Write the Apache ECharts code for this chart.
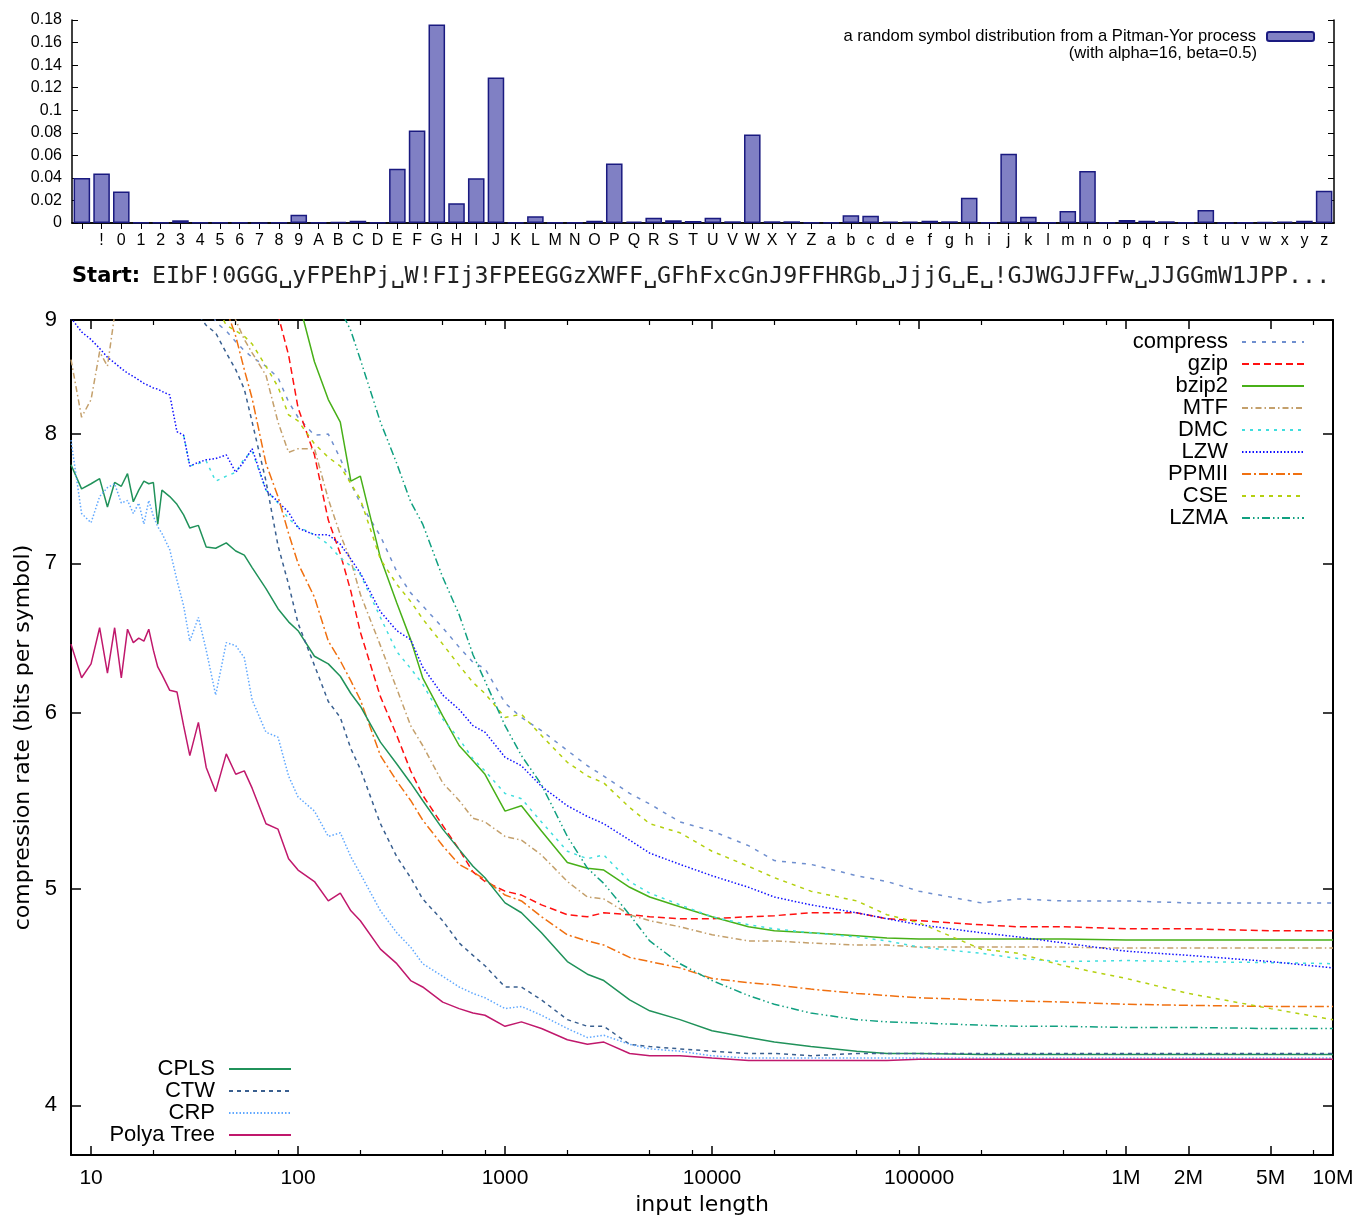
<!DOCTYPE html>
<html><head><meta charset="utf-8">
<script src="https://cdn.jsdelivr.net/npm/echarts@6/dist/echarts.min.js"></script>
<style>html,body{margin:0;padding:0;background:#fff}#c{width:1356px;height:1218px}</style>
</head><body><div id="c"></div>
<script>
// ---------- top chart: symbol distribution ----------
const symbols = [' ','!','0','1','2','3','4','5','6','7','8','9',
  'A','B','C','D','E','F','G','H','I','J','K','L','M','N','O','P','Q','R','S','T','U','V','W','X','Y','Z',
  'a','b','c','d','e','f','g','h','i','j','k','l','m','n','o','p','q','r','s','t','u','v','w','x','y','z'];
const symbolProb = [0.040,0.044,0.028,0.0005,0.0003,0.0024,0.0003,0.0003,0.0003,0.0002,0.0003,0.0074,
  0.0005,0.001,0.002,0.0005,0.048,0.082,0.176,0.0175,0.0396,0.129,0.0005,0.006,0.0005,0.0005,0.002,0.0527,0.0012,0.0047,0.0024,0.0018,0.0047,0.0015,0.0784,0.0015,0.0015,0.0005,
  0.0006,0.0068,0.0065,0.0012,0.0012,0.002,0.0015,0.0225,0.0003,0.0615,0.0056,0.0006,0.0107,0.046,0.0003,0.0027,0.002,0.0015,0.0003,0.0115,0.0002,0.0003,0.0009,0.0012,0.002,0.0287];
const barLegend = 'a random symbol distribution from a Pitman-Yor process';
const barLegend2 = '(with alpha=16, beta=0.5)';
const startLabel = 'Start:';
const startText = 'EIbF!0GGG\u2423yFPEhPj\u2423W!FIj3FPEEGGzXWFF\u2423GFhFxcGnJ9FFHRGb\u2423JjjG\u2423E\u2423!GJWGJJFFw\u2423JJGGmW1JPP...';

// ---------- main chart: compression rates ----------
const N = null;
const xs = [8,9,10,11,12,13,14,15,16,17, 18,19,20,21,22,24,26,28,30,33, 36,40,45,50,55,60,70,80,90,100,
  120,140,160,180,200,250,300,350,400,500, 600,700,800,1000,1200,1500,2000,2500,3000,4000,
  5000,7000,10000,15000,20000,30000,50000,70000,100000,200000, 300000,500000,1000000,2000000,5000000,10000000];
const xMajorTicks = [10,100,1000,10000,100000,1000000,2000000,5000000,10000000];
const xMinorTicks = [20,50,80,200,500,800,2000,5000,8000,20000,50000,80000,200000,500000,800000,8000000];
const yTicks = [4,5,6,7,8,9];

const compress = [N,N,N,N,N,N,N,N,N,N, N,N,N,N,N,N,N,N,N,N,
  9.3,8.98,8.90,8.80,8.72,8.66,8.58,8.48,8.27,8.14, 7.99,8.00,7.80,7.60,7.45,7.20,6.94,6.79,6.70,6.55,
  6.42,6.32,6.28,6.06,5.97,5.89,5.77,5.68,5.62,5.52, 5.46,5.36,5.31,5.23,5.15,5.13,5.07,5.04,4.99,4.93, 4.95,4.94,4.94,4.93,4.93,4.93];
const gzip = [N,N,N,N,N,N,N,N,N,N, N,N,N,N,N,N,N,N,N,N,
  N,N,N,N,N,N,9.8,9.05,8.68,8.22, 7.83,7.32,7.07,6.80,6.52,6.10,5.86,5.65,5.51,5.34,
  5.21,5.09,5.04,4.99,4.97,4.92,4.87,4.86,4.88,4.87, 4.86,4.85,4.85,4.86,4.865,4.88,4.88,4.85,4.84,4.82, 4.81,4.81,4.80,4.80,4.79,4.79];
const bzip2 = [N,N,N,N,N,N,N,N,N,N, N,N,N,N,N,N,N,N,N,N,
  N,N,N,N,N,N,N,N,9.8,9.2, 8.62,8.29,8.10,7.62,7.66,7.04,6.72,6.47,6.22,5.98,
  5.80,5.71,5.63,5.42,5.45,5.31,5.14,5.11,5.10,5.01, 4.96,4.91,4.86,4.81,4.79,4.78,4.765,4.755,4.75,4.75, 4.75,4.75,4.745,4.745,4.745,4.745];
const mtf = [8.64,8.14,8.29,8.71,8.58,9.05,9.6,N,N,N, N,N,N,N,N,N,N,N,N,N,
  N,N,9.3,9.0,8.82,8.70,8.50,8.10,7.85,7.88, 7.88,7.48,7.21,7.02,6.78,6.43,6.15,5.92,5.80,5.58,
  5.48,5.38,5.36,5.28,5.26,5.18,5.04,4.96,4.95,4.87, 4.84,4.81,4.77,4.74,4.74,4.73,4.72,4.72,4.71,4.71, 4.71,4.71,4.705,4.705,4.705,4.705];
const dmc = [N,N,N,N,N,N,N,N,N,N, N,N,N,N,N,N,N,7.99,7.74,7.76,
  7.78,7.62,7.66,7.69,7.80,7.86,7.55,7.45,7.33,7.27, 7.21,7.14,7.04,6.98,6.92,6.62,6.39,6.28,6.18,5.96,
  5.84,5.72,5.65,5.52,5.49,5.36,5.20,5.16,5.18,5.04, 4.98,4.92,4.86,4.82,4.80,4.78,4.76,4.74,4.71,4.68, 4.655,4.64,4.645,4.64,4.635,4.63];
const lzw = [9.02,8.89,8.82,8.74,8.66,8.61,8.56,8.52,8.49,8.46, 8.43,8.41,8.39,8.38,8.36,8.33,8.02,7.99,7.74,7.77,
  7.79,7.80,7.83,7.69,7.78,7.88,7.55,7.46,7.38,7.26, 7.21,7.21,7.14,7.03,6.93,6.66,6.53,6.47,6.29,6.11,
  6.02,5.92,5.88,5.73,5.68,5.56,5.45,5.39,5.35,5.26, 5.19,5.13,5.07,5.01,4.96,4.92,4.88,4.85,4.82,4.78, 4.76,4.73,4.69,4.67,4.64,4.61];
const ppmii = [N,N,N,N,N,N,N,N,N,N, N,N,N,N,N,N,N,N,N,N,
  N,9.6,9.1,8.85,8.55,8.30,7.76,7.50,7.22,7.00, 6.76,6.46,6.33,6.20,6.08,5.74,5.59,5.48,5.37,5.23,
  5.13,5.09,5.05,4.97,4.94,4.86,4.77,4.74,4.72,4.66, 4.64,4.61,4.56,4.54,4.53,4.51,4.49,4.48,4.47,4.46, 4.455,4.45,4.44,4.435,4.43,4.43];
const cse = [N,N,N,N,N,N,N,N,N,N, N,N,N,N,N,N,N,N,N,N,
  N,9.15,8.95,8.90,8.85,8.78,8.58,8.40,8.16,8.11, 7.92,7.81,7.74,7.60,7.48,7.03,6.85,6.73,6.61,6.44,
  6.30,6.19,6.12,5.97,5.99,5.86,5.70,5.62,5.58,5.44, 5.35,5.30,5.20,5.12,5.06,4.99,4.94,4.87,4.83,4.70, 4.68,4.62,4.56,4.49,4.42,4.37];
const lzma = [N,N,N,N,N,N,N,N,N,N, N,N,N,N,N,N,N,N,N,N,
  N,N,N,N,N,N,N,N,N,N, N,9.8,9.1,8.90,8.64,8.10,7.76,7.46,7.29,6.90,
  6.64,6.37,6.20,5.92,5.74,5.57,5.28,5.11,5.03,4.87, 4.74,4.63,4.55,4.48,4.44,4.40,4.37,4.36,4.355,4.345, 4.34,4.34,4.335,4.335,4.33,4.33];
const cpls = [7.75,7.56,7.60,7.64,7.42,7.61,7.58,7.68,7.46,7.55, 7.62,7.60,7.61,7.29,7.55,7.50,7.44,7.36,7.26,7.28,
  7.12,7.11,7.15,7.09,7.06,6.97,6.82,6.68,6.59,6.53, 6.36,6.31,6.23,6.12,6.04,5.82,5.69,5.58,5.48,5.32,
  5.21,5.12,5.06,4.93,4.88,4.78,4.64,4.58,4.55,4.46, 4.41,4.37,4.32,4.29,4.27,4.25,4.23,4.22,4.22,4.215, 4.215,4.215,4.215,4.215,4.215,4.215];
const ctw = [N,N,N,N,N,N,N,N,N,N, N,N,N,N,N,N,N,N,9.4,9.05,
  8.95,8.88,8.70,8.55,8.38,8.10,7.62,7.13,6.85,6.58, 6.30,6.07,5.97,5.78,5.66,5.35,5.17,5.06,4.95,4.84,
  4.73,4.67,4.62,4.52,4.52,4.46,4.37,4.34,4.34,4.26, 4.25,4.24,4.23,4.22,4.22,4.21,4.22,4.22,4.22,4.22, 4.22,4.22,4.22,4.22,4.22,4.22];
const crp = [7.95,7.37,7.30,7.50,7.57,7.60,7.45,7.47,7.37,7.45, 7.29,7.47,7.35,7.27,7.22,7.10,6.88,6.70,6.46,6.62,
  6.40,6.11,6.45,6.43,6.35,6.08,5.88,5.85,5.62,5.50, 5.42,5.28,5.30,5.17,5.08,4.89,4.78,4.71,4.63,4.57,
  4.52,4.49,4.47,4.42,4.43,4.39,4.33,4.29,4.30,4.26, 4.24,4.23,4.21,4.20,4.20,4.20,4.20,4.20,4.20,4.20, 4.20,4.20,4.20,4.20,4.20,4.20];
const polya = [6.44,6.22,6.31,6.55,6.25,6.55,6.22,6.54,6.45,6.48, 6.46,6.54,6.40,6.29,6.24,6.14,6.13,5.92,5.74,5.94,
  5.67,5.53,5.75,5.63,5.65,5.55,5.35,5.32,5.16,5.10, 5.04,4.94,4.98,4.89,4.84,4.70,4.63,4.55,4.52,4.45,
  4.42,4.40,4.39,4.34,4.36,4.33,4.28,4.26,4.27,4.22, 4.21,4.21,4.20,4.19,4.19,4.19,4.19,4.19,4.195,4.195, 4.195,4.195,4.195,4.195,4.195,4.195];

const upperNames = ['compress','gzip','bzip2','MTF','DMC','LZW','PPMII','CSE','LZMA'];
const lowerNames = ['CPLS','CTW','CRP','Polya Tree'];
const seriesValues = [compress,gzip,bzip2,mtf,dmc,lzw,ppmii,cse,lzma,cpls,ctw,crp,polya];
const seriesColors = ['#6f8fcf','#ff1010','#48b018','#c4a06c','#40dede','#1010ff','#f07010','#b4d010','#10a080','#20925a','#3a6090','#60a8ff','#c0186c'];
const seriesDash = [[4,6],[7,4],'solid',[6,3,1.5,3],[3,5],[1.5,2],[9,3,2,3],[4,5],[8,3,1.5,3,1.5,3],'solid',[4,4],[1.5,2],'solid'];

const SANS = "'Liberation Sans', Arial, sans-serif";
const allNames = upperNames.concat(lowerNames);

const lineSeries = allNames.map((name, k) => ({
  name: name, type: 'line', xAxisIndex: 2, yAxisIndex: 2,
  showSymbol: false, symbol: 'none', clip: true, animation: false,
  lineStyle: { color: seriesColors[k], width: 1.5, type: seriesDash[k] },
  itemStyle: { color: seriesColors[k] },
  data: xs.map((x, i) => [x, seriesValues[k][i]]).filter(p => p[1] !== null)
}));

const chart = echarts.init(document.getElementById('c'), null, { renderer: 'canvas' });
chart.setOption({
  animation: false,
  backgroundColor: '#fff',
  grid: [
    { left: 72, top: 20, width: 1262, height: 203, containLabel: false, outerBoundsMode: 'none' },
    { left: 71, top: 320, width: 1262, height: 835, containLabel: false, outerBoundsMode: 'none' }
  ],
  xAxis: [
    { type: 'category', gridIndex: 0, position: 'bottom', data: symbols,
      axisLine: { lineStyle: { color: '#000', width: 1.5 } }, axisTick: { show: false },
      axisLabel: { interval: 0, color: '#000', fontSize: 16, fontFamily: SANS, margin: 10 }, splitLine: { show: false } },
    { type: 'category', gridIndex: 0, position: 'top', data: symbols,
      axisLine: { lineStyle: { color: '#000', width: 1.5 } },
      axisTick: { show: true, inside: true, length: 6, alignWithLabel: true, interval: 0, lineStyle: { color: '#000' } },
      axisLabel: { show: false }, splitLine: { show: false } },
    { type: 'log', gridIndex: 1, position: 'bottom', min: 8, max: 10000000, logBase: 10,
      name: 'input length', nameLocation: 'middle', nameGap: 39,
      nameTextStyle: { color: '#000', fontSize: 22, fontFamily: "'DejaVu Sans', sans-serif" },
      axisLine: { lineStyle: { color: '#000', width: 2 } },
      axisTick: { show: true, inside: true, length: 9, customValues: xMajorTicks, lineStyle: { color: '#000', width: 1.5 } },
      axisLabel: { customValues: xMajorTicks, color: '#000', fontSize: 21, fontFamily: SANS, margin: 13,
        formatter: v => v >= 1000000 ? (Math.round(v / 1000000)) + 'M' : String(Math.round(v)) },
      splitLine: { show: false }, minorTick: { show: false } },
    { type: 'log', gridIndex: 1, position: 'bottom', min: 8, max: 10000000, logBase: 10,
      axisLine: { show: false },
      axisTick: { show: true, inside: true, length: 5, customValues: xMinorTicks, lineStyle: { color: '#000', width: 1.2 } },
      axisLabel: { show: false }, splitLine: { show: false } },
    { type: 'log', gridIndex: 1, position: 'top', min: 8, max: 10000000, logBase: 10,
      axisLine: { lineStyle: { color: '#000', width: 2 } },
      axisTick: { show: true, inside: true, length: 9, customValues: xMajorTicks, lineStyle: { color: '#000', width: 1.5 } },
      axisLabel: { show: false }, splitLine: { show: false } },
    { type: 'log', gridIndex: 1, position: 'top', min: 8, max: 10000000, logBase: 10,
      axisLine: { show: false },
      axisTick: { show: true, inside: true, length: 5, customValues: xMinorTicks, lineStyle: { color: '#000', width: 1.2 } },
      axisLabel: { show: false }, splitLine: { show: false } }
  ],
  yAxis: [
    { type: 'value', gridIndex: 0, position: 'left', min: 0, max: 0.18, interval: 0.02,
      axisLine: { show: true, lineStyle: { color: '#000', width: 1.5 } },
      axisTick: { show: true, inside: true, length: 6, lineStyle: { color: '#000' } },
      axisLabel: { color: '#000', fontSize: 16, fontFamily: SANS, margin: 10 }, splitLine: { show: false } },
    { type: 'value', gridIndex: 0, position: 'right', min: 0, max: 0.18, interval: 0.02,
      axisLine: { show: true, lineStyle: { color: '#000', width: 1.5 } },
      axisTick: { show: true, inside: true, length: 6, lineStyle: { color: '#000' } },
      axisLabel: { show: false }, splitLine: { show: false } },
    { type: 'log', gridIndex: 1, position: 'left', min: 3.8, max: 9, logBase: 10,
      name: 'compression rate (bits per symbol)', nameLocation: 'middle', nameGap: 35,
      nameTextStyle: { color: '#000', fontSize: 22, fontFamily: "'DejaVu Sans', sans-serif" },
      axisLine: { show: true, lineStyle: { color: '#000', width: 2 } },
      axisTick: { show: true, inside: true, length: 10, customValues: yTicks, lineStyle: { color: '#000', width: 1.5 } },
      axisLabel: { customValues: yTicks, color: '#000', fontSize: 22, fontFamily: SANS, margin: 14 },
      splitLine: { show: false } },
    { type: 'log', gridIndex: 1, position: 'right', min: 3.8, max: 9, logBase: 10,
      axisLine: { show: true, lineStyle: { color: '#000', width: 2 } },
      axisTick: { show: true, inside: true, length: 10, customValues: yTicks, lineStyle: { color: '#000', width: 1.5 } },
      axisLabel: { show: false }, splitLine: { show: false } }
  ],
  legend: [
    { data: upperNames, orient: 'vertical', align: 'right', right: 51, top: 331, padding: 0,
      itemWidth: 62, itemHeight: 10, itemGap: 0, selectedMode: false,
      itemStyle: { opacity: 0 },
      textStyle: { color: '#000', fontSize: 22, lineHeight: 22, fontFamily: SANS, padding: [0, 9, 0, 0] } },
    { data: lowerNames, orient: 'vertical', align: 'right', right: 1064, top: 1058, padding: 0,
      itemWidth: 62, itemHeight: 10, itemGap: 0, selectedMode: false,
      itemStyle: { opacity: 0 },
      textStyle: { color: '#000', fontSize: 22, lineHeight: 22, fontFamily: SANS, padding: [0, 9, 0, 0] } },
    { data: [barLegend], orient: 'vertical', align: 'right', right: 41, top: 28, padding: 0,
      itemWidth: 47, itemHeight: 9, selectedMode: false,
      textStyle: { color: '#000', fontSize: 16.6, fontFamily: SANS, padding: [0, 6, 0, 0] } }
  ],
  graphic: [
    { type: 'text', x: 1257, y: 53, style: { text: barLegend2, fill: '#000', font: "16.6px 'Liberation Sans', Arial, sans-serif", align: 'right', verticalAlign: 'middle' } },
    { type: 'text', x: 72, y: 277, style: { text: startLabel, fill: '#000', font: "bold 21px 'DejaVu Sans', sans-serif", align: 'left', verticalAlign: 'middle' } },
    { type: 'text', x: 152, y: 277, style: { text: startText, fill: '#222', font: "23.3px 'DejaVu Sans Mono', monospace", align: 'left', verticalAlign: 'middle' } }
  ],
  series: [
    { name: barLegend, type: 'bar', xAxisIndex: 0, yAxisIndex: 0, barCategoryGap: '16%',
      itemStyle: { color: '#8080c4', borderColor: '#1a1a80', borderWidth: 1.5 },
      data: symbolProb }
  ].concat(lineSeries)
});
</script>
</body></html>
